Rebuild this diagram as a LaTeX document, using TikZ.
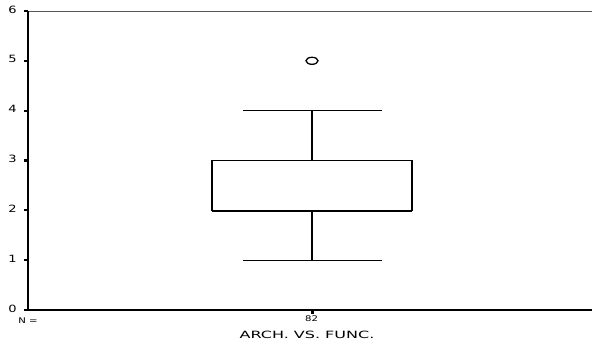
\documentclass[tikz,border=0pt]{standalone}
\usepackage{fontspec}
\usetikzlibrary{shapes.geometric}
\setmainfont{DejaVu Sans}
\begin{document}
\begin{tikzpicture}[x=1pt,y=-1pt,
  axisline/.style={line width=1.8pt,black},
  boxline/.style={line width=1.3pt,black},
  ticklab/.style={font=\fontsize{10}{10}\selectfont,xscale=1.3,inner sep=0pt},
  smalllab/.style={font=\fontsize{7.8}{8}\selectfont,xscale=1.3,inner sep=0pt}]
\useasboundingbox (0,0) rectangle (592,341);
\fill[white] (0,0) rectangle (592,341);
% frame
\coordinate (tl) at (28,11);
\coordinate (tr) at (592,11);
\coordinate (bl) at (28,310);
\coordinate (br) at (592,310);
\draw[line width=1pt,gray!70!black] (tl) -- (tr);
\draw[axisline] (tl) -- (bl);
\draw[axisline] (bl) -- (br);
% y ticks and labels
\foreach \v/\yy in {0/310,1/260.2,2/210.3,3/160.5,4/110.7,5/60.8,6/11}{
  \coordinate (t\v) at (24,\yy);
  \draw[line width=2.2pt] (t\v) -- ++(4,0);
  \node[ticklab] (l\v) at (12.5,\yy-1.5) {\v};
}
% x tick
\coordinate (xt) at (312,310);
\draw[line width=3pt] (xt) -- ++(0,4);
% box plot
\coordinate (q1l) at (212,210.3);
\coordinate (q3r) at (412,160.5);
\draw[boxline] (q1l) rectangle (q3r);
\draw[line width=2.6pt] (212,210.8) -- (412,210.8);
\coordinate (wtop) at (312,110.7);
\coordinate (wbot) at (312,260.2);
\draw[boxline] (312,160.5) -- (wtop);
\draw[boxline] (312,210.3) -- (wbot);
\draw[line width=1.1pt] (243,110.7) -- (382,110.7);
\draw[line width=1.1pt] (243,260.2) -- (382,260.2);
\node[draw,ellipse,line width=1.3pt,minimum width=12pt,minimum height=7pt,inner sep=0pt] (out) at (312,60.8) {};
% labels
\node[smalllab] (n) at (28,320.5) {N =};
\node[smalllab] (n82) at (311.5,318.5) {82};
\node[font=\fontsize{10}{10}\selectfont,xscale=1.6,inner sep=0pt] (xl) at (307,334.5) {ARCH. VS. FUNC.};
\end{tikzpicture}
\end{document}
